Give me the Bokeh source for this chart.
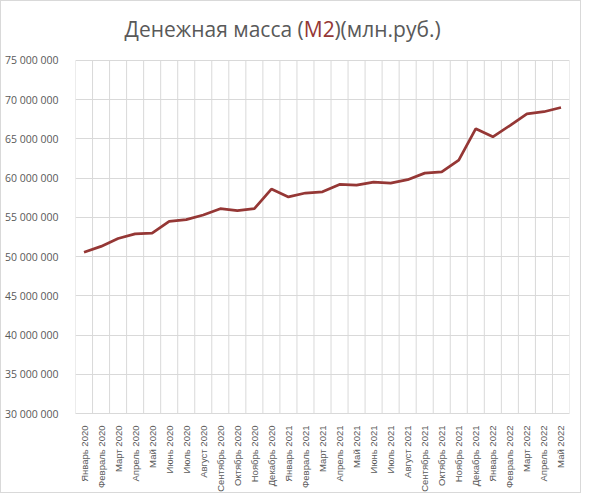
from math import pi
from bokeh.plotting import figure
from bokeh.models import Range1d, FixedTicker, Label
from bokeh.embed import file_html
from bokeh.resources import INLINE

# money supply M2, mln rub, by month
months = ["Январь 2020", "Февраль 2020", "Март 2020", "Апрель 2020", "Май 2020",
          "Июнь 2020", "Июль 2020", "Август 2020", "Сентябрь 2020", "Октябрь 2020",
          "Ноябрь 2020", "Декабрь 2020", "Январь 2021", "Февраль 2021", "Март 2021",
          "Апрель 2021", "Май 2021", "Июнь 2021", "Июль 2021", "Август 2021",
          "Сентябрь 2021", "Октябрь 2021", "Ноябрь 2021", "Декабрь 2021", "Январь 2022",
          "Февраль 2022", "Март 2022", "Апрель 2022", "Май 2022"]
m2 = [50550000, 51300000, 52300000, 52900000, 53000000,
      54500000, 54700000, 55300000, 56100000, 55850000,
      56100000, 58600000, 57600000, 58100000, 58250000,
      59200000, 59100000, 59500000, 59360000, 59800000,
      60640000, 60800000, 62300000, 66300000, 65260000,
      66700000, 68200000, 68460000, 69000000]
y_ticks = [30000000, 35000000, 40000000, 45000000, 50000000,
           55000000, 60000000, 65000000, 70000000, 75000000]
y_tick_labels = ["30 000 000", "35 000 000", "40 000 000", "45 000 000", "50 000 000",
                 "55 000 000", "60 000 000", "65 000 000", "70 000 000", "75 000 000"]

xs = [i + 0.5 for i in range(len(months))]
edges = list(range(len(months) + 1))

grid_col = "#d9d9d9"
text_col = "#595959"
red = "#953735"

# frame reaches up to the title so the title labels are not clipped
p = figure(width=581, height=493, output_backend="svg", toolbar_location=None, tools="",
           x_range=Range1d(0, len(months)), y_range=Range1d(y_ticks[0], 82000000),
           min_border_left=74, min_border_right=13, min_border_top=4, min_border_bottom=81)
p.outline_line_color = None
p.styles = {"border": "1px solid #d9d9d9"}

# vertical grid lines at category edges, only over the value area
p.segment(x0=edges, y0=y_ticks[0], x1=edges, y1=y_ticks[-1], line_color=grid_col, line_width=1)

p.line(xs, m2, line_color=red, line_width=2.75)

# y axis
p.yaxis.ticker = FixedTicker(ticks=y_ticks)
p.yaxis.major_label_overrides = dict(zip(y_ticks, y_tick_labels))
p.yaxis.axis_line_color = None
p.yaxis.major_tick_line_color = None
p.yaxis.minor_tick_line_color = None
p.yaxis.major_label_standoff = 11
p.yaxis.major_label_text_font = "Open Sans"
p.yaxis.major_label_text_font_size = "10.5px"
p.yaxis.major_label_text_color = text_col

# x axis
p.xaxis.ticker = FixedTicker(ticks=xs)
p.xaxis.major_label_overrides = dict(zip(xs, months))
p.xaxis.major_label_orientation = pi / 2
p.xaxis.axis_line_color = grid_col
p.xaxis.major_tick_line_color = None
p.xaxis.minor_tick_line_color = None
p.xaxis.major_label_standoff = 6
p.xaxis.major_label_text_font = "Liberation Sans"
p.xaxis.major_label_text_font_size = "9.5px"
p.xaxis.major_label_text_color = text_col

p.ygrid.grid_line_color = grid_col
p.xgrid.grid_line_color = None

# title in three pieces, "М2" in red
tfont = "Open Sans"
tsize = "21px"
ty = 79000000
p.add_layout(Label(x=13.4, y=ty, text="Денежная масса (",
                   text_align="right", text_baseline="middle", text_font=tfont,
                   text_font_size=tsize, text_color=text_col))
p.add_layout(Label(x=13.4, y=ty, text="М2",
                   text_align="left", text_baseline="middle", text_font=tfont,
                   text_font_size=tsize, text_color=red))
p.add_layout(Label(x=15.2, y=ty, text=")(млн.руб.)",
                   text_align="left", text_baseline="middle", text_font=tfont,
                   text_font_size=tsize, text_color=text_col))

open("out.html", "w").write(file_html(p, INLINE))
